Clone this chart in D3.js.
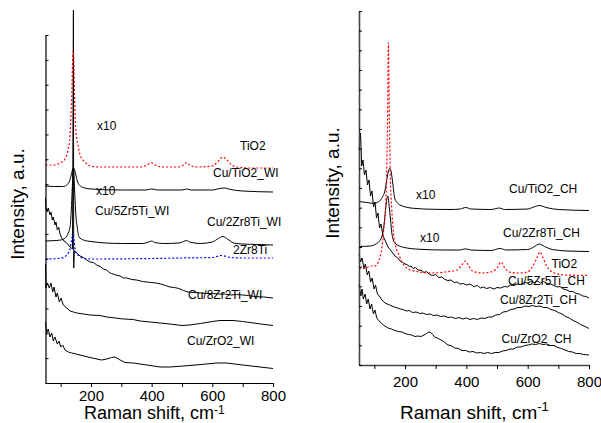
<!DOCTYPE html>
<html>
<head>
<meta charset="utf-8">
<script src="https://cdn.jsdelivr.net/npm/d3@7"></script>
<style>
  body { margin: 0; background: #fff; }
  text { font-family: "Liberation Sans", Arial, sans-serif; fill: #000; }
</style>
</head>
<body>
<svg id="chart" width="601" height="423"></svg>
<script>
// ---------- axis ticks ----------
const xTickValues = [100, 200, 300, 400, 500, 600, 700, 800];
const xTickLabels = ["", "200", "", "400", "", "600", "", "800"];

// ---------- WI samples (left panel), [Raman shift cm-1, offset intensity a.u.] ----------
const tio2WI = [[50,218],[81,218],[98,220],[114,224],[124,233],[131,248],[134,268],[137,293],[139,318],[142,332],
  [144,313],[147,273],[150,253],[157,238],[164,228],[180,221],[197,217],[230,216],[300,216],[360,216],[385,218],
  [398,220.5],[410,218],[440,216],[490,216],[505,218],[515,220.5],[525,218],[550,216],[600,217],[620,222],[635,226],
  [645,224],[660,219],[680,216],[720,215],[800,215]];
const cuTiO2WI = [[50,197],[80,196.5],[110,196.5],[120,198],[128,201],[134,207],[138,212],[142,215],[146,213],
  [150,208],[156,201],[165,197],[180,195],[200,194],[300,193],[380,193],[400,194],[420,193],[500,193],[515,194],
  [530,193],[600,193],[625,194.5],[640,195],[660,193.5],[700,192],[800,191]];
const cu2Zr8TiWI = [[50,142],[75,142.3],[100,143],[115,145],[125,150],[131,156],[135,173],[138,193],[142,215],
  [146,193],[149,173],[155,155],[160,146.3],[175,143],[200,141.5],[250,140],[300,139.5],[370,139.5],[390,141],
  [400,142],[410,140.5],[440,139.5],[490,140],[505,141.5],[515,142.5],[525,141],[560,139.5],[600,141],[620,144.5],
  [635,146.5],[650,144],[670,140],[700,139],[750,138.5],[800,138]];
const zr8TiWI = [[50,124],[90,124.5],[110,125.5],[120,128],[130,133],[136,143],[140,148],[144,142],[149,131.5],
  [160,127],[175,124.7],[200,124],[400,124.5],[500,125],[600,125.5],[630,127.5],[660,125.5],[700,125],[800,125]];
const cu5Zr5TiWI = [[50,185],[51.6,174],[55.9,171],[59.2,175],[64.8,168],[68.1,171],[72.4,163],[75.7,166],[81.3,158],
  [84.6,161],[88.9,153],[93.5,156],[97.8,149],[103.4,145],[111,142],[120,140],[131,136],[139,134],[142,373],[143,115],
  [145,132],[153,130],[164,127],[175,125.5],[186,123],[197,121],[208,120.5],[219,118],[230,116.5],[241,114],[252,113],
  [260,110.5],[268,109.5],[282,108],[296,107],[307,105],[318,105],[334,103.5],[350,103],[370,101.5],[397,100.5],
  [415,100],[430,99],[445,97.5],[460,96],[475,95.5],[490,94.5],[505,92.5],[520,91],[540,90.5],[560,90],[580,89.5],
  [600,89.5],[620,89],[640,89],[660,88],[680,88.5],[700,88],[720,87.5],[740,86.5],[770,86],[800,85]];
const cu8Zr2TiWI = [[50,119],[51.6,95],[56,100],[62.5,95],[68,100],[73.7,91],[78,96],[84.6,86],[89,90],[95.5,81],
  [101,85],[108.7,78],[120,75],[131,72],[142,71],[153,70],[175,69],[197,68],[230,67.5],[252,66],[280,65],[307,64],
  [339,63.5],[362,62],[395,61],[428,60],[460,59],[500,57.5],[526,58],[560,59.5],[600,61.5],[625,62.5],[668,62.5],
  [700,61.5],[724,60.5],[760,59],[800,57.5]];
const cuZrO2WI = [[50,61],[54,50],[59.2,54],[64.8,46],[70.4,50],[75.7,42],[81.3,46],[88.9,39],[94.5,42],[100.1,36],
  [106.7,38],[114.3,33],[125.2,31],[136.4,30],[163.7,28],[196.7,25.5],[235,23],[252,24],[268,25.5],[279,26],[296,23],
  [312,20.5],[340,20],[384,18],[428,16],[460,16],[526,17.5],[580,19],[614,20],[647,20],[700,18],[757,16],[800,14.5]];

// ---------- CH samples (right panel) ----------
const tio2CH = [[50,96.5],[65,96.5],[80,98],[90,99],[102,99],[113,103],[118.5,108],[127,123],[132,140],[137,160],
  [140,190],[143,245],[146,322],[149,245],[152,190],[156.6,157],[162,134],[170,118],[178,112],[190,103],[206,97],
  [238,93.5],[290,92],[330,93],[370,95],[385,100],[397,104],[408,99],[420,94],[450,92],[480,93],[500,97],[513,103],
  [525,97],[540,93],[570,92],[600,93],[615,98],[630,107],[640,113],[650,107],[662,99],[680,93],[720,90],[800,89.5]];
const cuTiO2CH = [[50,163.5],[75,162.5],[97,161.7],[115,163.5],[124,166.7],[135,175],[142,188],[147,195],[151,196.7],
  [155,193],[160,182],[167,166],[184,160],[227,156.7],[292,155.7],[350,155.5],[380,156],[398,157.5],[415,156],
  [480,155.5],[508,157],[525,155.5],[600,156],[620,158],[638,159.5],[660,157.5],[700,155.5],[800,154.5]];
const cu2Zr8TiCH = [[50,118.5],[86,119],[108,121.5],[124,128],[132,141],[139,162],[144,169],[149,157],[153,145],
  [157,132],[167,122],[195,117.7],[249,115.7],[330,115],[380,115],[397,116.2],[415,115],[480,114.5],[510,116.5],
  [530,115],[600,115.5],[620,118],[638,121],[655,118.5],[680,115.5],[730,114],[800,113.5]];
const cu5Zr5TiCH = [[50,215],[54.9,232],[58.8,199],[63,205],[67.9,190],[72.8,195],[77.7,180],[82.6,185],[87.5,169],
  [92.4,174],[97.3,158],[102.2,163],[107.1,147],[112,152],[116.9,137],[121.7,141],[128.3,129],[134.8,125],[144.6,118],
  [157.6,113],[167.4,109],[176,107],[184,104],[192,102.5],[200,101],[206,100.5],[214,98.5],[220,99],[226,96.5],
  [234,97.5],[242,95],[254,94.5],[262,92.5],[270,93.5],[280,90.5],[291,89.5],[300,90.5],[310,87.5],[320,88],
  [330,85.5],[340,84.5],[350,85],[360,82.5],[370,83],[379,81],[390,81.5],[401,80],[412,81],[424,78.5],[436,79.5],
  [446,77],[455,78],[466,76.5],[478,77.5],[490,76],[500,77.5],[512,77],[524,78.5],[534,78],[544,80],[556,79.5],
  [566,81],[578,80.5],[590,82.5],[600,82],[612,83.5],[622,82.5],[632,84],[642,82],[652,83.5],[664,81.5],[674,81],
  [686,79.5],[696,78],[706,78.5],[716,76],[728,75],[738,73.5],[748,73.5],[758,71.5],[768,71],[780,69],[790,68.5],
  [800,67]];
const cu8Zr2TiCH = [[50,111],[55,103],[60,107],[66,97],[71,101],[77,90],[82,94],[88,83],[93,87],[99,76],[104,80],
  [110,71],[116,69],[125,65],[135,62],[150,60],[165,58],[176,57],[184,56],[194,55.5],[204,54],[214,54.5],[224,52.5],
  [236,53],[248,51.5],[258,52],[270,50.5],[282,51],[292,49.5],[304,50],[316,48.5],[328,49],[340,47.5],[352,48],
  [364,46.5],[376,47.5],[388,46],[400,47],[412,45.5],[424,46.5],[436,45.5],[448,47],[460,46.5],[472,48],[484,48],
  [496,50],[508,50.5],[520,53],[532,53.5],[544,55.5],[556,56],[568,57.5],[580,57.5],[592,59],[604,58.5],[616,59.5],
  [628,58.5],[640,59],[652,57.5],[664,57.5],[676,55.5],[688,54.5],[700,52.5],[712,51],[724,48.5],[736,47],
  [748,44.5],[760,43],[772,40.5],[784,39],[800,36.5]];
const cuZrO2CH = [[50,81],[56,69],[60,76],[64,66],[70,71],[75,61],[80,66],[86,56],[91,61],[97,51],[102,55],[108,47],
  [113,45],[124,41.5],[134,39],[145,37],[156,36],[167,34.5],[178,33.5],[190,33],[200,31.5],[211,30.5],[222,30],
  [232,28.5],[242,29],[252,28.5],[262,30],[270,31.5],[278,33],[284,32.5],[290,30.5],[298,27.5],[306,27],[314,25.5],
  [322,24.5],[330,22.5],[340,20],[350,19.5],[362,17],[374,16.5],[386,14.5],[398,14.5],[410,13],[422,13.5],[434,12],
  [446,12.5],[458,11.5],[470,12.5],[482,11.5],[494,12.5],[506,12.5],[518,14],[530,14.5],[542,16],[554,16],[566,18],
  [578,18],[590,19.5],[602,20],[614,21],[626,20.5],[638,21.5],[650,20.5],[662,21],[674,19.5],[686,19.5],[698,17.5],
  [710,16.5],[722,15],[734,13.5],[746,13],[758,11.5],[770,11.5],[782,10.5],[800,10]];

// ---------- annotation texts ----------
const wiNotes = ["x10", "TiO2", "Cu/TiO2_WI", "x10", "Cu/5Zr5Ti_WI", "Cu/2Zr8Ti_WI", "2Zr8Ti", "Cu/8Zr2Ti_WI", "Cu/ZrO2_WI"];
const chNotes = ["x10", "Cu/TiO2_CH", "x10", "Cu/2Zr8Ti_CH", "TiO2", "Cu/5Zr5Ti_CH", "Cu/8Zr2Ti_CH", "Cu/ZrO2_CH"];

// ---------- layout ----------
const svg = d3.select("#chart");
svg.append("rect").attr("width", 601).attr("height", 423).attr("fill", "#fff");

const panels = [
  {
    x: [45.5, 273], y: [383, 35], yMax: 348, yTickCount: 14, tickPad: 3,
    axisColor: "#000", axisWidth: 1.2,
    yTitle: { x: 24, y: 204 },
    xTitle: { x: 84, y: 419, size: 18, supSize: 12, supDy: -5 },
    series: [
      { data: cuZrO2WI, color: "#000", dash: null, curve: d3.curveLinear },
      { data: cu8Zr2TiWI, color: "#000", dash: null, curve: d3.curveLinear },
      { data: cu5Zr5TiWI, color: "#000", dash: null, curve: d3.curveLinear },
      { data: zr8TiWI, color: "#0000ff", dash: "2,2", curve: d3.curveMonotoneX },
      { data: cu2Zr8TiWI, color: "#000", dash: null, curve: d3.curveMonotoneX },
      { data: cuTiO2WI, color: "#000", dash: null, curve: d3.curveMonotoneX },
      { data: tio2WI, color: "#ff0000", dash: "2,2", curve: d3.curveMonotoneX }
    ],
    notes: wiNotes,
    notePos: [[97,130],[240,150],[213,177],[96,195],[95,215],[207,226],[233,253.5],[188,298.5],[187,345]]
  },
  {
    x: [359, 589], y: [365, 11], yMax: 354, yTickCount: 18, tickPad: 7,
    axisColor: "#444", axisWidth: 1.6,
    yTitle: { x: 339, y: 183 },
    xTitle: { x: 400, y: 418.5, size: 19, supSize: 13, supDy: -8 },
    series: [
      { data: cuZrO2CH, color: "#000", dash: null, curve: d3.curveLinear },
      { data: cu8Zr2TiCH, color: "#000", dash: null, curve: d3.curveLinear },
      { data: cu5Zr5TiCH, color: "#000", dash: null, curve: d3.curveLinear },
      { data: cu2Zr8TiCH, color: "#000", dash: null, curve: d3.curveMonotoneX },
      { data: cuTiO2CH, color: "#000", dash: null, curve: d3.curveMonotoneX },
      { data: tio2CH, color: "#ff0000", dash: "2,2", curve: d3.curveMonotoneX }
    ],
    notes: chNotes,
    notePos: [[416,198.5],[509,193],[420,241.5],[503,236.5],[551.5,267.5],[508,285],[500,304],[501.5,343]]
  }
];

panels.forEach(p => {
  const x = d3.scaleLinear().domain([50, 800]).range(p.x);
  const y = d3.scaleLinear().domain([0, p.yMax]).range(p.y);
  const g = svg.append("g");

  // spectra
  const line = d3.line().x(d => x(d[0])).y(d => y(d[1]));
  p.series.forEach(s => {
    g.append("path")
      .datum(s.data)
      .attr("d", line.curve(s.curve))
      .attr("fill", "none")
      .attr("stroke", s.color)
      .attr("stroke-width", s.dash ? 1.2 : 1)
      .attr("stroke-dasharray", s.dash)
      .attr("stroke-linejoin", "round");
  });

  // bottom axis
  const xAxis = d3.axisBottom(x)
    .tickValues(xTickValues)
    .tickFormat((d, i) => xTickLabels[i])
    .tickSize(4).tickSizeOuter(0).tickPadding(p.tickPad);
  const gx = g.append("g").attr("transform", `translate(0,${p.y[0]})`).call(xAxis);
  gx.selectAll("text").attr("font-size", 15).attr("font-family", "Liberation Sans, Arial, sans-serif");

  // left axis with inward ticks, unlabeled
  const yTicks = d3.range(0, p.yTickCount + 1).map(i => i * p.yMax / p.yTickCount);
  const yAxis = d3.axisRight(y).tickValues(yTicks).tickFormat("").tickSize(3).tickSizeOuter(0);
  g.append("g").attr("transform", `translate(${p.x[0]},0)`).call(yAxis);
  g.selectAll(".domain").attr("stroke", p.axisColor).attr("stroke-width", p.axisWidth);

  // axis titles
  g.append("text")
    .attr("transform", `translate(${p.yTitle.x},${p.yTitle.y}) rotate(-90)`)
    .attr("text-anchor", "middle")
    .attr("font-size", 19)
    .text("Intensity, a.u.");
  const xt = g.append("text")
    .attr("x", p.xTitle.x).attr("y", p.xTitle.y)
    .attr("font-size", p.xTitle.size);
  xt.append("tspan").text("Raman shift, cm");
  xt.append("tspan").attr("font-size", p.xTitle.supSize).attr("dy", p.xTitle.supDy).text("-1");

  // sample annotations
  p.notes.forEach((t, i) => {
    g.append("text")
      .attr("x", p.notePos[i][0]).attr("y", p.notePos[i][1])
      .attr("font-size", 12)
      .text(t);
  });
});
</script>
</body>
</html>
